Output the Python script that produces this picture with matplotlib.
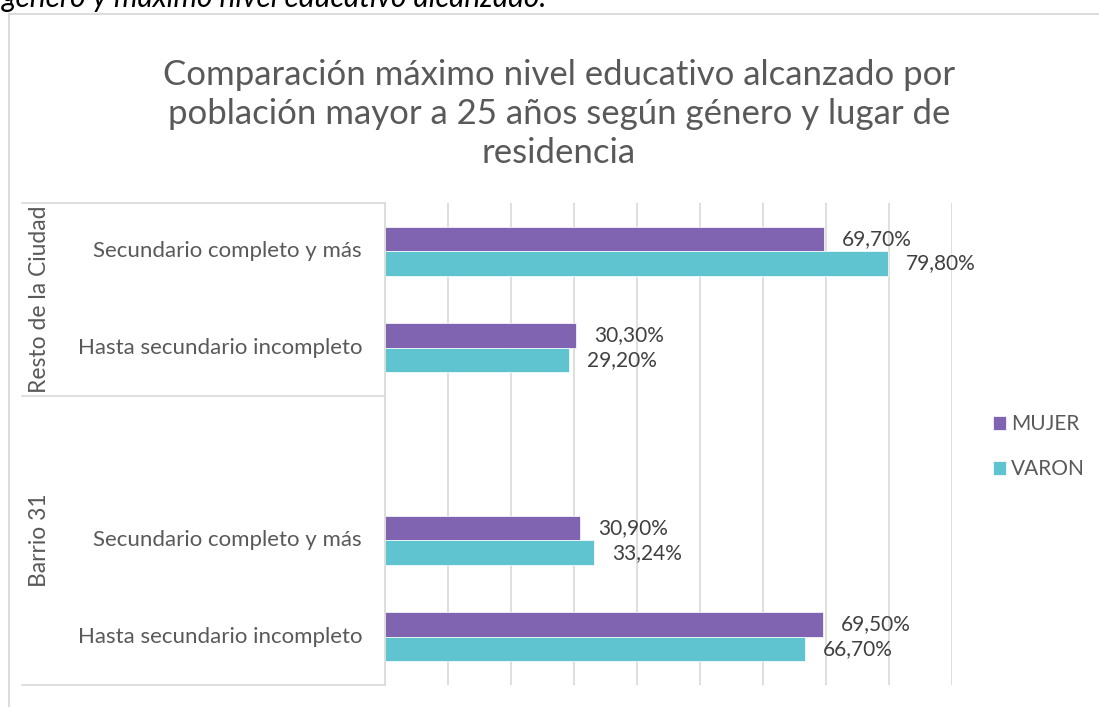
import numpy as np
import matplotlib.pyplot as plt

plt.rcParams['font.family'] = ['Lato', 'DejaVu Sans']

# slots from top to bottom, one slot left empty between the two groups
categories = ['Secundario completo y más', 'Hasta secundario incompleto', '',
              'Secundario completo y más', 'Hasta secundario incompleto']
groups = ['Resto de la Ciudad', 'Barrio 31']
group_slots = [(0, 1), (2, 4)]
mujer = [69.70, 30.30, np.nan, 30.90, 69.50]
varon = [79.80, 29.20, np.nan, 33.24, 66.70]
series_names = ['MUJER', 'VARON']
colors = ['#8064B2', '#5FC4D0']

title = ('Comparación máximo nivel educativo alcanzado por\n'
         'población mayor a 25 años según género y lugar de\nresidencia')
caption = 'género y máximo nivel educativo alcanzado.'

fig = plt.figure(figsize=(10.99, 7.07), dpi=100)
W, H = 1099, 707


def fx(px):
    return px / W


def fy(py):
    return 1 - py / H


# chart border
fig.add_artist(plt.Line2D([fx(9), fx(9)], [fy(14), 0], color='#D9D9D9', lw=1.3))
fig.add_artist(plt.Line2D([fx(9), 1], [fy(14), fy(14)], color='#D9D9D9', lw=1.3))

# caption cut from the page above
fig.text(fx(2), fy(7), caption, fontsize=21.5, style='italic', color='black',
         ha='left', va='baseline')

fig.text(fx(559), fy(59), title, fontsize=25, color='#595959',
         ha='center', va='top', linespacing=1.27)

ax = fig.add_axes([fx(385), fy(685), fx(952) - fx(385), fy(203) - fy(685)])
y = np.arange(len(categories))
h = 0.255
ax.barh(y - h / 2, mujer, height=h, color=colors[0], label=series_names[0],
        edgecolor='white', linewidth=0.5)
ax.barh(y + h / 2, varon, height=h, color=colors[1], label=series_names[1],
        edgecolor='white', linewidth=0.5)

for vals, off in [(mujer, -h / 2), (varon, h / 2)]:
    for yi, v in zip(y, vals):
        if np.isnan(v):
            continue
        ax.annotate(f'{v:.2f}%'.replace('.', ','), (v, yi + off),
                    xytext=(13, 0), textcoords='offset points',
                    ha='left', va='center', fontsize=15, color='#404040')

ax.set_xlim(0, 90)
ax.set_ylim(len(categories) - 0.5, -0.5)
ax.set_xticks(np.arange(0, 91, 10))
ax.grid(axis='x', color='#D9D9D9', lw=1.2)
ax.set_axisbelow(True)
ax.tick_params(left=False, bottom=False, labelbottom=False, labelleft=False)
for s in ['top', 'right', 'bottom']:
    ax.spines[s].set_visible(False)
ax.spines['left'].set_color('#D9D9D9')
ax.spines['left'].set_linewidth(1.2)

# category labels and group box
slot = (685 - 203) / len(categories)
for i, c in enumerate(categories):
    fig.text(fx(362), fy(203 + slot * (i + 0.5)), c, fontsize=16,
             color='#595959', ha='right', va='center')
for g, (a, b) in zip(groups, group_slots):
    top = 203 + slot * a
    bot = 203 + slot * (b + 1)
    fig.text(fx(40), fy((top + bot) / 2), g, fontsize=16.5, color='#595959',
             rotation=90, ha='center', va='center')
for py in [203, 203 + slot * 2, 685]:
    fig.add_artist(plt.Line2D([fx(22), fx(385)], [fy(py), fy(py)],
                              color='#D9D9D9', lw=1.2))

ax.legend(loc='center left', bbox_to_anchor=(fx(974), fy(447)),
          bbox_transform=fig.transFigure, frameon=False, fontsize=15,
          handlelength=0.62, handleheight=0.62, handletextpad=0.25,
          labelspacing=1.2, labelcolor='#595959')

fig.savefig('out.png', dpi=100)
